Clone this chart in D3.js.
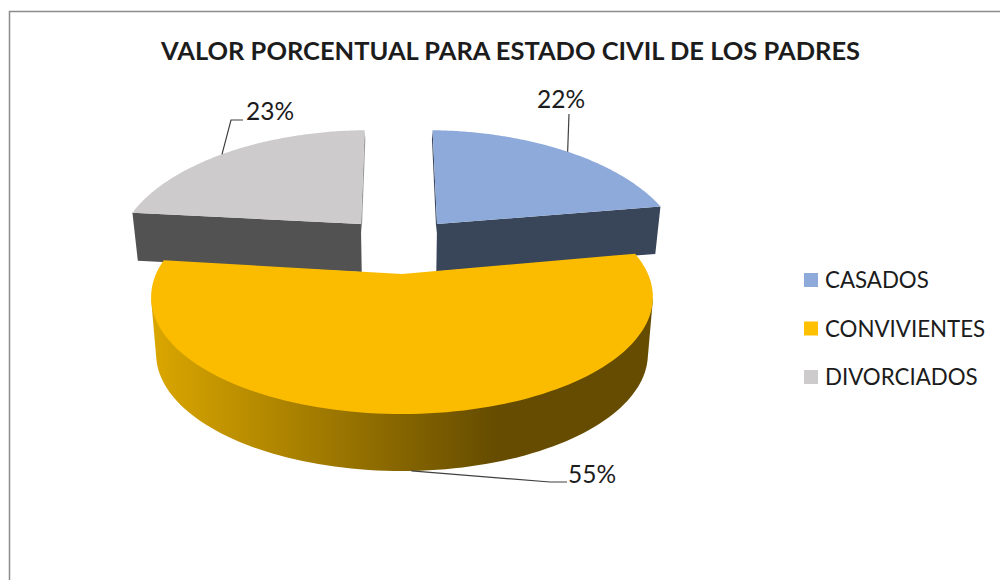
<!DOCTYPE html>
<html><head><meta charset="utf-8">
<script src="https://cdn.jsdelivr.net/npm/d3@7/dist/d3.min.js"></script>
<style>html,body{margin:0;padding:0;background:#fff}svg{display:block}text{font-family:Lato,"Noto Sans",sans-serif;fill:#1c1c1c}</style>
</head><body><div id="chart"></div>
<script>
const title = "VALOR PORCENTUAL PARA ESTADO CIVIL DE LOS PADRES";
const categories = ["CASADOS", "CONVIVIENTES", "DIVORCIADOS"];
const values = [22, 55, 23];
const labels = ["22%", "55%", "23%"];
const topColors = ["#8eaadb", "#fbbc00", "#cdcbcc"];
const legendColors = ["#8eaadb", "#ffc000", "#cdcbcc"];
const wallColors = ["#394559", "url(#wallGrad)", "#525252"];
const backWallColors = ["#394559", null, "#9a9a9a"];

const W = 1000, H = 580;
const svg = d3.select("#chart").append("svg").attr("width", W).attr("height", H);
const defs = svg.append("defs");
const grad = defs.append("linearGradient").attr("id", "wallGrad")
  .attr("gradientUnits", "userSpaceOnUse").attr("x1", 150).attr("x2", 652).attr("y1", 0).attr("y2", 0);
grad.append("stop").attr("offset", 0).attr("stop-color", "#dba700");
grad.append("stop").attr("offset", 0.69).attr("stop-color", "#654c00");
grad.append("stop").attr("offset", 1).attr("stop-color", "#654c00");

// frame
svg.append("path").attr("d", `M9.5,${H}V11.5H${W}`).attr("fill", "none").attr("stroke", "#8c8c8c").attr("stroke-width", 1.5);

svg.append("text").text(title).attr("x", 510.5).attr("y", 60).attr("text-anchor", "middle")
  .attr("font-size", 24).attr("font-weight", 700).attr("textLength", 699).attr("lengthAdjust", "spacingAndGlyphs");

// perspective projection of the tilted pie disc
const cx = 402, cy = 274, R = 246, A = 112.5, K = 0.1965;
const project = (u, v) => { const d = 1 + K * v; return [cx + R * u / d, cy - A * v / d]; };
const drop = (p, h) => [cx + (p[0] - cx) * 0.98, p[1] + h];

const shape = [
  {u0: 0.156, v0: 0.487, rx: 1.052, ry: 1.22, skew: 0.01, tilt: -0.035, h: 47.5},
  {u0: 0, v0: 0, rx: 1, ry: 1, skew: 0, tilt: 0, h: 57},
  {u0: -0.183, v0: 0.487, rx: 1.05, ry: 1.22, skew: -0.02, tilt: 0.03, h: 48}
];

const pie = d3.pie().sort(null).value(d => d)(values);
const line = d3.line();
const slices = pie.map((p, i) => {
  const s = shape[i];
  const at = t => project(s.u0 + s.rx * Math.sin(t) + s.skew * Math.cos(t), s.v0 + s.ry * Math.cos(t) + s.tilt * Math.sin(t));
  const n = 120;
  const angles = d3.range(n + 1).map(k => p.startAngle + (p.endAngle - p.startAngle) * k / n);
  const arc = angles.map(at);
  const apex = project(s.u0, s.v0);
  return {i, s, at, arc, angles, apex, p};
});

function drawWall(sl, pts, color, h) {
  const bottom = pts.map(q => drop(q, h)).reverse();
  svg.append("path").attr("d", line(pts.concat(bottom)) + "Z").attr("fill", color);
}
function drawTop(sl) {
  svg.append("path").attr("d", line([sl.apex, ...sl.arc]) + "Z").attr("fill", topColors[sl.i]);
}

// exploded back slices: thin sliver of the far radial wall, full near radial wall
const back = slices[0], back2 = slices[2];
drawWall(back, [back.apex, back.arc[0]], backWallColors[0], 9);
drawWall(back, [back.apex, back.arc[back.arc.length - 1]], wallColors[0], back.s.h);
drawTop(back);
drawWall(back2, [back2.apex, back2.arc[back2.arc.length - 1]], backWallColors[2], 9);
drawWall(back2, [back2.apex, back2.arc[0]], wallColors[2], back2.s.h);
drawTop(back2);

// front slice: outer wall is the hull of the visible part of the rim, top and bottom
const front = slices[1];
const rim = front.arc.filter((q, k) => Math.cos(front.angles[k]) <= -K);
const hull = d3.polygonHull(rim.concat(rim.map(q => drop(q, front.s.h))));
svg.append("path").attr("d", line(hull) + "Z").attr("fill", wallColors[1]);
drawTop(front);

// leaders and labels
const leader = [
  {t: 0.52, pts: [[569, 114]], tx: 561, ty: 108},
  {t: 0.5, pts: [[550, 482], [567, 482]], tx: 592, ty: 483, wall: true},
  {t: 0.47, pts: [[231, 120], [243, 120]], tx: 270, ty: 120}
];
slices.forEach((sl, i) => {
  const l = leader[i];
  const t = sl.p.startAngle + (sl.p.endAngle - sl.p.startAngle) * l.t;
  let a = sl.at(t);
  if (l.wall) a = drop(a, sl.s.h);
  svg.append("path").attr("d", line([a, ...l.pts])).attr("fill", "none").attr("stroke", "#404040").attr("stroke-width", 1.2);
  svg.append("text").text(labels[i]).attr("x", l.tx).attr("y", l.ty).attr("text-anchor", "middle").attr("font-size", 24.5);
});

// legend
const legendY = d3.scalePoint().domain(categories).range([280, 377]);
categories.forEach((c, i) => {
  const y = legendY(c);
  svg.append("rect").attr("x", 804).attr("y", y - 7).attr("width", 14).attr("height", 14).attr("fill", legendColors[i]);
  svg.append("text").text(c).attr("x", 825).attr("y", y + 8).attr("font-size", 22.3);
});
</script></body></html>
